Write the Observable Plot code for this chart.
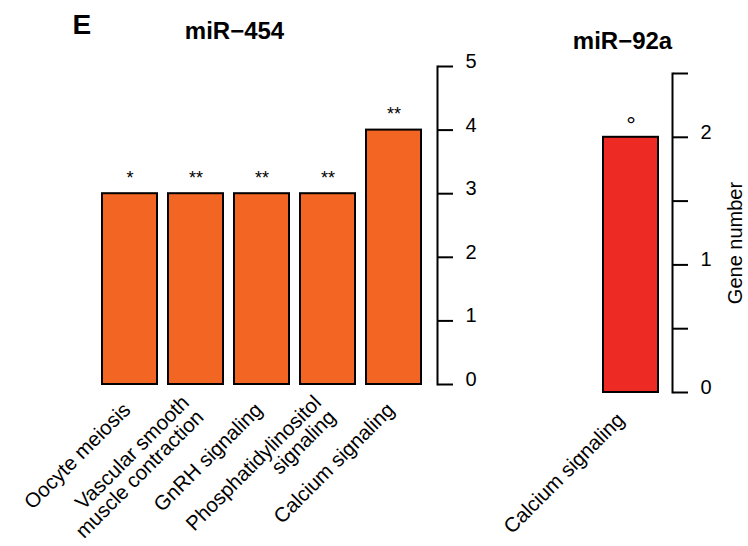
<!DOCTYPE html>
<html><head><meta charset="utf-8">
<script src="https://cdn.jsdelivr.net/npm/d3@7"></script>
<script src="https://cdn.jsdelivr.net/npm/@observablehq/plot@0.6"></script>
<style>
body{margin:0;background:#fff;}
#wrap{position:relative;width:748px;height:546px;background:#fff;}
#wrap svg{position:absolute;left:0;top:0;}
</style></head><body><div id="wrap"></div>
<script>
const panelTag = "E";
const titleA = "miR−454";
const catsA = ["Oocyte meiosis", "Vascular smooth\nmuscle contraction", "GnRH signaling", "Phosphatidylinositol\nsignaling", "Calcium signaling"];
const valsA = [3, 3, 3, 3, 4];
const sigA = ["*", "**", "**", "**", "**"];
const ticksA = [0, 1, 2, 3, 4, 5];

const titleB = "miR−92a";
const catsB = ["Calcium signaling"];
const valsB = [2];
const sigB = ["°"];
const ticksB = [0, 0.5, 1, 1.5, 2, 2.5];
const tickLabelsB = [0, 1, 2];
const yLabel = "Gene number";

const FONT = "'Liberation Sans', Arial, Helvetica, sans-serif";
const dataA = catsA.map((c, i) => ({cat: c, v: valsA[i], sig: sigA[i]}));
const dataB = catsB.map((c, i) => ({cat: c, v: valsB[i], sig: sigB[i]}));

const common = {width: 748, height: 546, marginLeft: 0};
const styleObj = {fontFamily: FONT, background: "transparent", overflow: "visible", color: "black"};

const plotA = Plot.plot({
  ...common,
  marginTop: 66, marginBottom: 162, marginRight: 311,
  style: styleObj,
  x: {domain: catsA, range: [100, 424], paddingInner: 0.164, paddingOuter: 0, axis: null},
  y: {domain: [0, 5], axis: null},
  marks: [
    Plot.barY(dataA, {x: "cat", y: "v", fill: "#F26522", stroke: "black", strokeWidth: 2}),
    Plot.text(dataA, {x: "cat", y: "v", text: "sig", dy: -10, lineAnchor: "bottom", fontSize: 18}),
    Plot.text(dataA, {x: "cat", y: 0, text: "cat", rotate: -45, textAnchor: "end", lineAnchor: "middle", dx: -3, dy: 22, fontSize: 20.5}),
    Plot.frame({anchor: "right", strokeWidth: 2, stroke: "black"}),
    Plot.axisY({anchor: "right", ticks: ticksA, tickSize: 15, tickFormat: () => "", strokeWidth: 2, label: null}),
    Plot.axisY({anchor: "right", ticks: ticksA, tickSize: 0, tickPadding: 28, dy: -5, fontSize: 20, tickFormat: d => String(d), label: null}),
    Plot.text([panelTag], {frameAnchor: "top-left", dx: 72, dy: -33, textAnchor: "start", lineAnchor: "bottom", fontSize: 28, fontWeight: "bold"}),
    Plot.text([titleA], {frameAnchor: "top-left", dx: 234, dy: -28, textAnchor: "middle", lineAnchor: "bottom", fontSize: 24, fontWeight: "bold"})
  ]
});

const plotB = Plot.plot({
  ...common,
  marginTop: 73, marginBottom: 154, marginRight: 76,
  style: styleObj,
  x: {domain: catsB, range: [603, 658], padding: 0, axis: null},
  y: {domain: [0, 2.5], axis: null},
  marks: [
    Plot.barY(dataB, {x: "cat", y: "v", fill: "#EE2A24", stroke: "black", strokeWidth: 2}),
    Plot.text(dataB, {x: "cat", y: "v", text: "sig", dy: -4, lineAnchor: "bottom", fontSize: 24}),
    Plot.text(dataB, {x: "cat", y: 0, text: "cat", rotate: -45, textAnchor: "end", lineAnchor: "middle", dx: -10, dy: 24, fontSize: 20.5}),
    Plot.frame({anchor: "right", strokeWidth: 2, stroke: "black"}),
    Plot.axisY({anchor: "right", ticks: ticksB, tickSize: 15, tickFormat: () => "", strokeWidth: 2, label: null}),
    Plot.axisY({anchor: "right", ticks: tickLabelsB, tickSize: 0, tickPadding: 28, dy: -5, fontSize: 20, tickFormat: d => String(d), label: null}),
    Plot.text([yLabel], {frameAnchor: "right", dx: 63, dy: 10, rotate: -90, textAnchor: "middle", lineAnchor: "middle", fontSize: 20}),
    Plot.text([titleB], {frameAnchor: "top-left", dx: 622, dy: -25, textAnchor: "middle", lineAnchor: "bottom", fontSize: 24, fontWeight: "bold"})
  ]
});

const wrap = document.getElementById("wrap");
wrap.appendChild(plotA);
wrap.appendChild(plotB);
</script>
</body></html>
